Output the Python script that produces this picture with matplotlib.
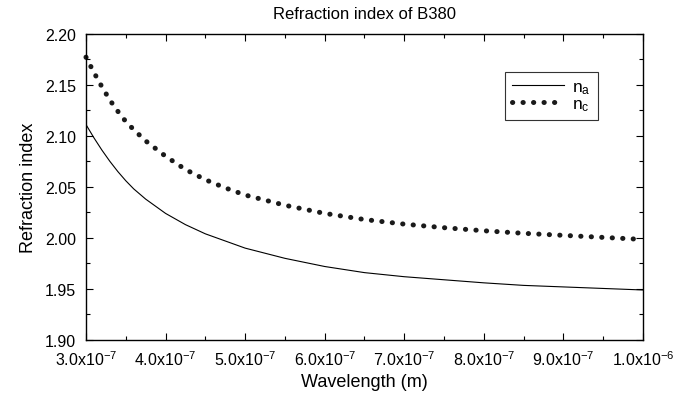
import matplotlib
matplotlib.use("Agg")
from matplotlib import pyplot as plt
from matplotlib.ticker import MultipleLocator, FuncFormatter

plt.rcParams['font.family'] = ['Liberation Sans', 'DejaVu Sans']
plt.rcParams['mathtext.default'] = 'regular'

# Wavelength in nm
wavelength = [300, 305, 310, 315, 320, 325, 330, 340, 350, 360, 375, 400, 425,
              450, 475, 500, 550, 600, 650, 700, 750, 800, 850, 900, 950, 1000]
n_a = [2.111, 2.1045, 2.098, 2.092, 2.086, 2.0805, 2.075, 2.065, 2.056, 2.048,
       2.038, 2.024, 2.013, 2.004, 1.997, 1.990, 1.980, 1.972, 1.966, 1.962,
       1.959, 1.956, 1.9535, 1.952, 1.9505, 1.949]
n_c = [2.177, 2.1695, 2.162, 2.155, 2.148, 2.1415, 2.135, 2.124, 2.114, 2.106,
       2.095, 2.080, 2.067, 2.057, 2.049, 2.042, 2.032, 2.024, 2.018, 2.0135,
       2.010, 2.007, 2.0045, 2.0025, 2.0005, 1.9985]

wl_m = [w * 1e-9 for w in wavelength]

fig = plt.figure(figsize=(6.89, 4.02), dpi=100)
ax = fig.add_axes([0.1248, 0.1517, 0.8084, 0.762])

ax.plot(wl_m, n_a, color="black", lw=0.8, label="n$_a$")
ax.plot(wl_m, n_c, color="#1a1a1a", lw=3.6, linestyle=(0, (0.05, 2.05)),
        dash_capstyle="round", solid_capstyle="round", label="n$_c$",
        clip_on=False)

ax.set_xlim(3.0e-7, 1.0e-6)
ax.set_ylim(1.90, 2.20)


def sci(v, pos):
    if v <= 0:
        return ""
    e = 0
    m = v
    while m < 1 - 1e-9:
        m *= 10
        e -= 1
    return f"{m:.1f}x10$^{{{e}}}$"


ax.xaxis.set_major_locator(MultipleLocator(1e-7))
ax.xaxis.set_minor_locator(MultipleLocator(5e-8))
ax.xaxis.set_major_formatter(FuncFormatter(sci))
ax.yaxis.set_major_locator(MultipleLocator(0.05))
ax.yaxis.set_minor_locator(MultipleLocator(0.025))
ax.yaxis.set_major_formatter(FuncFormatter(lambda v, p: f"{v:.2f}"))

ax.tick_params(which="both", direction="in", top=True, right=True,
               labelsize=11.5, width=0.8)
ax.tick_params(which="major", length=5, pad=7)
ax.tick_params(which="minor", length=3)
for s in ax.spines.values():
    s.set_linewidth(1.0)

ax.set_xlabel("Wavelength (m)", fontsize=13, labelpad=3)
ax.set_ylabel("Refraction index", fontsize=13, labelpad=6)
ax.set_title("Refraction index of B380", fontsize=12, pad=11)

leg = ax.legend(loc="upper right", bbox_to_anchor=(0.919, 0.875),
                borderaxespad=0, fancybox=False, framealpha=1,
                edgecolor="#333333", fontsize=12.5, handlelength=3.0,
                handletextpad=0.5, borderpad=0.4, labelspacing=0.0)
leg.get_frame().set_linewidth(0.8)

fig.savefig("out.png", dpi=100)
